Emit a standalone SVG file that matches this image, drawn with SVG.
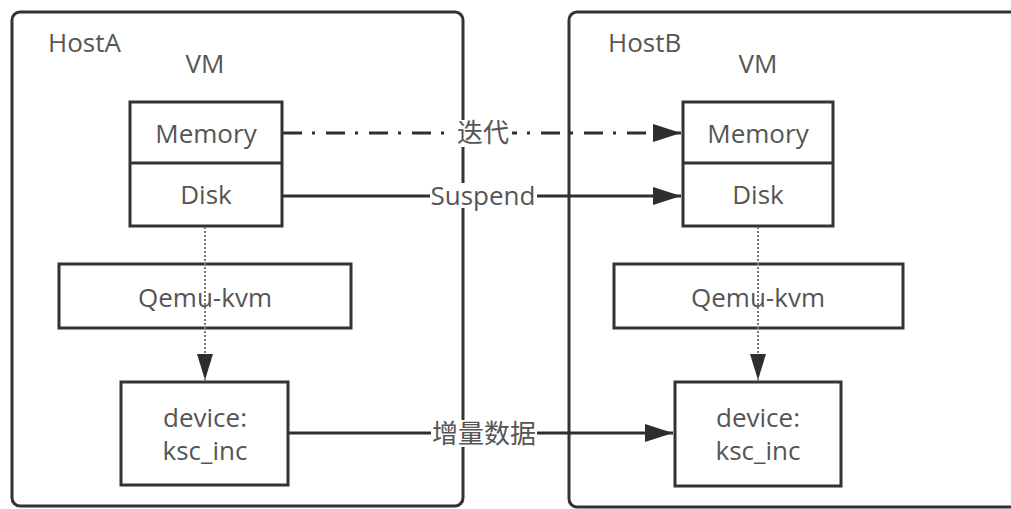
<svg xmlns="http://www.w3.org/2000/svg" width="1011" height="509" viewBox="0 0 1011 509">
<defs>
<style>
.host{fill:#fff;stroke:#333;stroke-width:3}
.box{fill:#fff;stroke:#333;stroke-width:3}
text{font-family:"Open Sans","Noto Sans CJK SC",sans-serif;font-size:26px;fill:#555;text-anchor:middle}
.hl{text-anchor:start}
.solid{stroke:#2e2e2e;stroke-width:3;fill:none}
.dashdot{stroke:#2e2e2e;stroke-width:3;fill:none;stroke-dasharray:19 10 3 11}
.dotted{stroke:#777;stroke-width:2;fill:none;stroke-dasharray:2 2}
.lbg{fill:#fff}
</style>
<marker id="ah" markerUnits="userSpaceOnUse" markerWidth="28" markerHeight="18" refX="28" refY="9" orient="auto">
<path d="M0,0 L28,9 L0,18 Z" fill="#2e2e2e"/>
</marker>
<marker id="ahs" markerUnits="userSpaceOnUse" markerWidth="26" markerHeight="16" refX="26" refY="8" orient="auto">
<path d="M0,0 L26,8 L0,16 Z" fill="#2e2e2e"/>
</marker>
</defs>
<rect width="1011" height="509" fill="#fff"/>
<g id="hostA">
<rect class="host" x="12" y="12" width="451" height="494" rx="8"/>
<text class="hl" x="48" y="52">HostA</text>
<text x="205" y="73">VM</text>
</g>
<g id="hostB">
<rect class="host" x="569" y="12" width="470" height="495" rx="8"/>
<text class="hl" x="608" y="52">HostB</text>
<text x="758" y="73">VM</text>
</g>
<g id="vmA">
<rect class="box" x="130" y="102" width="152" height="124"/>
<line x1="130" y1="163" x2="282" y2="163" stroke="#333" stroke-width="3"/>
<text x="206" y="143">Memory</text>
<text x="206" y="204">Disk</text>
</g>
<g id="vmB">
<rect class="box" x="683" y="102" width="150" height="124"/>
<line x1="683" y1="163" x2="833" y2="163" stroke="#333" stroke-width="3"/>
<text x="758" y="143">Memory</text>
<text x="758" y="204">Disk</text>
</g>
<g id="qemuA">
<rect class="box" x="59" y="264" width="292" height="64"/>
<text x="205" y="307">Qemu-kvm</text>
</g>
<g id="qemuB">
<rect class="box" x="614" y="264" width="289" height="64"/>
<text x="758" y="307">Qemu-kvm</text>
</g>
<g id="deviceA">
<rect class="box" x="121" y="382" width="167" height="103"/>
<text x="205" y="427">device:</text>
<text x="205" y="460">ksc_inc</text>
</g>
<g id="deviceB">
<rect class="box" x="675" y="382" width="166" height="104"/>
<text x="758" y="427">device:</text>
<text x="758" y="460">ksc_inc</text>
</g>
<g id="connectors">
<line class="dashdot" x1="283" y1="133" x2="681" y2="133" marker-end="url(#ah)"/>
<line class="solid" x1="283" y1="196" x2="681" y2="196" marker-end="url(#ah)"/>
<line class="solid" x1="289" y1="433" x2="673" y2="433" marker-end="url(#ah)"/>
<line class="dotted" x1="205" y1="227" x2="205" y2="380" marker-end="url(#ahs)"/>
<line class="dotted" x1="758" y1="227" x2="758" y2="380" marker-end="url(#ahs)"/>
<rect class="lbg" x="455" y="120" width="57" height="27"/>
<text x="483" y="142">迭代</text>
<rect class="lbg" x="430" y="183" width="107" height="25"/>
<text x="483" y="205">Suspend</text>
<rect class="lbg" x="431" y="420" width="106" height="27"/>
<text x="484" y="443">增量数据</text>
</g>
</svg>
